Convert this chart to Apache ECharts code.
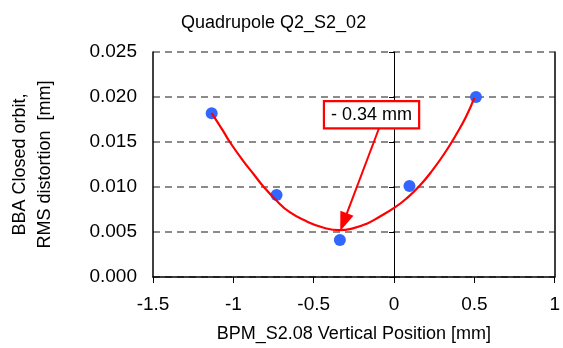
<!DOCTYPE html>
<html>
<head>
<meta charset="utf-8">
<script src="https://cdn.jsdelivr.net/npm/echarts@6/dist/echarts.min.js"></script>
<style>
  html, body { margin: 0; padding: 0; background: #fff; }
  #chart { width: 563px; height: 348px; }
</style>
</head>
<body>
<div id="chart"></div>
<script>
// ---- data ----
const chartTitle = 'Quadrupole Q2_S2_02';
const xAxisName = 'BPM_S2.08 Vertical Position [mm]';
const yAxisName = 'BBA Closed orbit,\nRMS distortion  [mm]';

// measured BPM positions and RMS distortions
const measX = [-1.135, -0.731, -0.337, 0.096, 0.510];
const measY = [0.0182, 0.0091, 0.0041, 0.0101, 0.0200];

// fitted curve
const fitX = [-1.135, -1.063, -1.022, -0.939, -0.877, -0.815, -0.732, -0.649, -0.545, -0.442, -0.339,
              -0.256, -0.173, -0.090, 0.003, 0.076, 0.158, 0.241, 0.324, 0.386, 0.448, 0.500];
const fitY = [0.0182, 0.0162, 0.0150, 0.0129, 0.0115, 0.0101, 0.0085, 0.0072, 0.0062, 0.0055, 0.0052,
              0.0054, 0.0059, 0.0067, 0.0077, 0.0087, 0.0101, 0.0119, 0.0140, 0.0158, 0.0178, 0.0199];

// annotation
const annotText = '- 0.34 mm';
const annotBox = [-0.140, 0.01803];
const arrowFrom = [-0.094, 0.0165];
const arrowTo = [-0.314, 0.0061];

// axis ticks
const xMin = -1.5, xMax = 1, xStep = 0.5;
const yMin = 0, yMax = 0.025, yStep = 0.005;

const FONT = "'Liberation Sans', Arial, sans-serif";

const chart = echarts.init(document.getElementById('chart'), null, { renderer: 'canvas' });

const yCommon = { type: 'value', min: yMin, max: yMax, interval: yStep };

chart.setOption({
  animation: false,
  backgroundColor: '#fff',
  textStyle: { fontFamily: FONT },
  title: {
    text: chartTitle,
    left: 176,
    top: 9,
    textStyle: { fontFamily: FONT, fontSize: 18, fontWeight: 'normal', color: '#000' }
  },
  grid: { left: 153, right: 8, top: 52, bottom: 71, containLabel: false },
  xAxis: {
    type: 'value', min: xMin, max: xMax, interval: xStep,
    name: xAxisName, nameLocation: 'middle', nameGap: 48,
    nameTextStyle: { fontFamily: FONT, fontSize: 18, color: '#000' },
    axisLine: { show: true, onZero: false, lineStyle: { color: '#000', width: 1.5 } },
    axisTick: { show: true, length: 6, lineStyle: { color: '#000', width: 1 } },
    axisLabel: { fontFamily: FONT, fontSize: 19, color: '#000', margin: 18 },
    splitLine: { show: false }
  },
  yAxis: [
    Object.assign({}, yCommon, {
      position: 'left',
      name: yAxisName, nameLocation: 'middle', nameGap: 95,
      nameTextStyle: { fontFamily: FONT, fontSize: 18, color: '#000', lineHeight: 25, align: 'center' },
      axisLine: { show: true, onZero: false, lineStyle: { color: '#000', width: 1.5 } },
      axisTick: { show: false },
      axisLabel: { fontFamily: FONT, fontSize: 19, color: '#000', margin: 16,
                   formatter: v => v.toFixed(3) },
      splitLine: { show: true, lineStyle: { color: '#666', width: 1.5, type: [7, 5] } }
    }),
    Object.assign({}, yCommon, {
      position: 'left',
      axisLine: { show: true, onZero: true, lineStyle: { color: '#000', width: 1 } },
      axisTick: { show: true, length: 5, lineStyle: { color: '#000', width: 1 } },
      axisLabel: { show: false },
      splitLine: { show: false }
    }),
    Object.assign({}, yCommon, {
      position: 'right',
      axisLine: { show: true, onZero: false, lineStyle: { color: '#000', width: 1.5 } },
      axisTick: { show: false },
      axisLabel: { show: false },
      splitLine: { show: false }
    })
  ],
  series: [
    {
      type: 'scatter',
      yAxisIndex: 0,
      symbol: 'circle',
      symbolSize: 12,
      itemStyle: { color: '#3366FF', opacity: 1 },
      data: measX.map((x, i) => [x, measY[i]]),
      z: 2
    },
    {
      type: 'line',
      yAxisIndex: 0,
      smooth: 0.5,
      showSymbol: false,
      lineStyle: { color: '#FF0000', width: 2.2 },
      data: fitX.map((x, i) => [x, fitY[i]]),
      z: 3,
      markLine: {
        silent: true,
        animation: false,
        label: { show: false },
        lineStyle: { color: '#FF0000', width: 2, type: 'solid' },
        symbol: ['none', 'triangle'],
        symbolSize: [14, 19],
        data: [[{ coord: arrowFrom }, { coord: arrowTo }]]
      },
      markPoint: {
        silent: true,
        symbol: 'rect',
        symbolSize: 1,
        itemStyle: { color: 'rgba(0,0,0,0)' },
        label: {
          show: true, position: 'inside',
          formatter: annotText,
          fontFamily: FONT, fontSize: 18, color: '#000',
          backgroundColor: '#fff', borderColor: '#FF0000', borderWidth: 2.2,
          padding: [4, 6, 3, 6]
        },
        data: [{ coord: annotBox }]
      }
    }
  ]
});
</script>
</body>
</html>
